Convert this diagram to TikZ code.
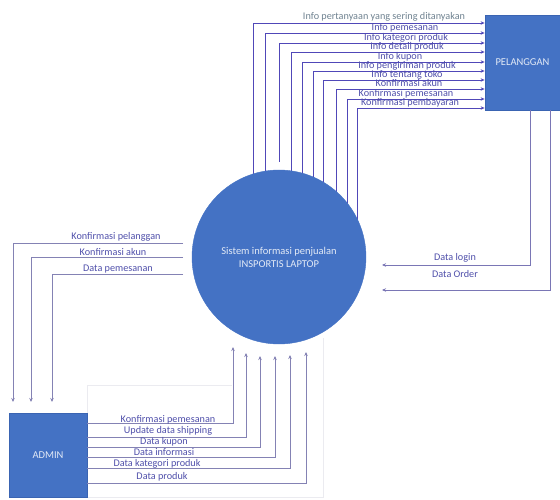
\documentclass[tikz,border=0pt]{standalone}
\usepackage{fontspec}
\setmainfont{Carlito}
\usetikzlibrary{arrows.meta,backgrounds}
\definecolor{boxblue}{HTML}{4472C4}
\definecolor{boxedge}{HTML}{3A64B2}
\definecolor{topline}{HTML}{5048B8}
\definecolor{sideline}{HTML}{8482B4}
\definecolor{labelc}{HTML}{4F4FAA}
\definecolor{firstc}{HTML}{6F8290}
\definecolor{faint}{HTML}{EBEBF0}
\begin{document}
\begin{tikzpicture}[x=1pt,y=-1pt,
  entity/.style={draw=boxedge,line width=0.8pt,fill=boxblue,text=white!85!boxblue,font=\fontsize{10.5}{12}\selectfont,inner sep=0pt},
  proc/.style={circle,fill=boxblue,draw=boxblue,text=white!85!boxblue,align=center,font=\fontsize{10.5}{13}\selectfont,inner sep=0pt,minimum size=174pt},
  arr/.style={draw=sideline,line width=0.8pt,-{Stealth[length=4pt,width=3.5pt]}},
  toparr/.style={draw=topline,line width=0.9pt,-{Stealth[length=4pt,width=3.5pt]}},
  lab/.style={text=labelc,font=\fontsize{10.2}{11}\selectfont,inner sep=0pt,anchor=base}]
\useasboundingbox (0,0) rectangle (560,500);
% nodes
\node[proc] (circ) at (279,257) {Sistem informasi penjualan\\INSPORTIS LAPTOP};
\node[entity,minimum width=75pt,minimum height=95pt] (pel) at (522.5,62.5) {PELANGGAN};
\node[entity,minimum width=78pt,minimum height=84pt] (adm) at (48,455) {ADMIN};
% coordinates
\coordinate (t2) at (279,162);
\begin{scope}[on background layer]
  \draw[faint,line width=0.6pt] (232,385) -- (87,385) -- (87,497) -- (323,497) -- (323,338);
  % top: process -> pelanggan
  \draw[toparr] (circ.center -| 253,0) |- (pel.west |- 0,23);
  \draw[toparr] (circ.center -| 265,0) |- (pel.west |- 0,33);
  \draw[toparr] (t2) |- (pel.west |- 0,43);
  \draw[toparr] (circ.center -| 291,0) |- (pel.west |- 0,52);
  \draw[toparr] (circ.center -| 302,0) |- (pel.west |- 0,62);
  \draw[toparr] (circ.center -| 313,0) |- (pel.west |- 0,71);
  \draw[toparr] (circ.center -| 323,0) |- (pel.west |- 0,80);
  \draw[toparr] (circ.center -| 336,0) |- (pel.west |- 0,89);
  \draw[toparr] (circ.center -| 347,0) |- (pel.west |- 0,99);
  \draw[toparr] (circ.center -| 357,0) |- (pel.west |- 0,108);
\end{scope}
% top labels
\node[lab,text=firstc] (l0) at (384,19.5) {Info pertanyaan yang sering ditanyakan};
\node[lab] (l1) at (405,30.5) {Info pemesanan};
\node[lab] (l2) at (406,40.5) {Info kategori produk};
\node[lab] (l3) at (407,49.5) {Info detail produk};
\node[lab] (l4) at (400,59.5) {Info kupon};
\node[lab] (l5) at (407,68.5) {Info pengiriman produk};
\node[lab] (l6) at (407,77.5) {Info tentang toko};
\node[lab] (l7) at (409,86.5) {Konfirmasi akun};
\node[lab] (l8) at (406,96.5) {Konfirmasi pemesanan};
\node[lab] (l9) at (410,106) {Konfirmasi pembayaran};
% pelanggan -> process
\coordinate (r1) at (382,265);
\coordinate (r2) at (382,290);
\draw[arr,draw=sideline!80!topline] (pel.south -| 530,0) |- (r1);
\draw[arr,draw=sideline!80!topline] (pel.south -| 550,0) |- (r2);
\node[lab] (rl1) at (455,260) {Data login};
\node[lab] (rl2) at (455,277) {Data Order};
% process -> admin
\coordinate (a1s) at (183,243); \coordinate (a1e) at (13,402);
\coordinate (a2s) at (183,257); \coordinate (a2e) at (31,402);
\coordinate (a3s) at (183,274); \coordinate (a3e) at (52,402);
\draw[arr] (a1s) -| (a1e);
\draw[arr] (a2s) -| (a2e);
\draw[arr] (a3s) -| (a3e);
\node[lab] (ll1) at (116,239.5) {Konfirmasi pelanggan};
\node[lab] (ll2) at (113,255) {Konfirmasi akun};
\node[lab] (ll3) at (118,271) {Data pemesanan};
% admin -> process
\coordinate (b1) at (233,347);
\coordinate (b2) at (246,353);
\coordinate (b3) at (260,356);
\coordinate (b4) at (275,356);
\coordinate (b5) at (290,355);
\coordinate (b6) at (306,352);
\draw[arr] (adm.east |- 0,423) -| (b1);
\draw[arr] (adm.east |- 0,437) -| (b2);
\draw[arr] (adm.east |- 0,447) -| (b3);
\draw[arr] (adm.east |- 0,457) -| (b4);
\draw[arr] (adm.east |- 0,468) -| (b5);
\draw[arr] (adm.east |- 0,483) -| (b6);
\node[lab] (bl1) at (168,422) {Konfirmasi pemesanan};
\node[lab] (bl2) at (168,433.5) {Update data shipping};
\node[lab] (bl3) at (164,444.5) {Data kupon};
\node[lab] (bl4) at (164,455) {Data informasi};
\node[lab] (bl5) at (157,466) {Data kategori produk};
\node[lab] (bl6) at (162,479.5) {Data produk};
\end{tikzpicture}
\end{document}
